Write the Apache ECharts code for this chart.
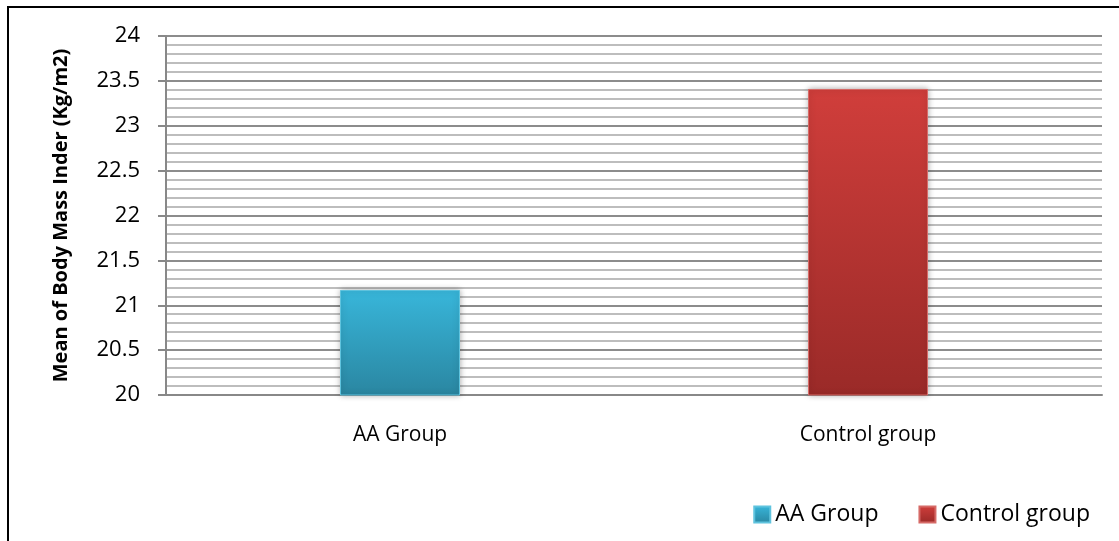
<!DOCTYPE html>
<html><head><meta charset="utf-8">
<script src="https://cdn.jsdelivr.net/npm/echarts@6/dist/echarts.min.js"></script>
<style>html,body{margin:0;padding:0;background:#fff}#c{width:1119px;height:541px}</style>
</head><body><div id="c"></div>
<script>
const categories = ['AA Group', 'Control group'];
const seriesNames = ['AA Group', 'Control group'];
const values = [21.17, 23.41];
const yTicks = ['20', '20.5', '21', '21.5', '22', '22.5', '23', '23.5', '24'];
const yTitle = 'Mean of Body Mass Inder (Kg/m2)';

const grads = [
  ['#38b6da', '#2a86a1', '#5fc3de'],
  ['#d03e3b', '#9a2a28', '#d66a67']
];
const font = 'Open Sans, Liberation Sans, sans-serif';
const chart = echarts.init(document.getElementById('c'));
chart.setOption({
  animation: false,
  graphic: [{
    type: 'rect', shape: {x: 8, y: 7, width: 1200, height: 600},
    style: {fill: 'none', stroke: '#000', lineWidth: 2}, silent: true, z: 100
  }],
  grid: {left: 166, right: 17, top: 36, bottom: 146},
  legend: {
    right: 24, top: 498, itemWidth: 16, itemHeight: 16, itemGap: 40,
    textStyle: {fontFamily: font, fontSize: 23, color: '#000'},
    data: seriesNames.map((n, i) => ({name: n, icon: 'rect'}))
  },
  xAxis: {
    type: 'category', data: categories,
    axisLine: {lineStyle: {color: '#888', width: 2}},
    axisTick: {show: false},
    axisLabel: {fontFamily: font, fontSize: 21, color: '#000', margin: 30}
  },
  yAxis: {
    type: 'value', min: 20, max: 24, interval: 0.5,
    name: yTitle, nameLocation: 'middle', nameGap: 95,
    nameTextStyle: {fontFamily: font, fontSize: 20, fontWeight: 'bold', color: '#000'},
    axisLine: {show: true, lineStyle: {color: '#888', width: 2}},
    axisTick: {show: true, length: 8, lineStyle: {color: '#888', width: 2}},
    axisLabel: {fontFamily: font, fontSize: 22, color: '#000', margin: 26,
      formatter: (v) => yTicks[Math.round((v - 20) / 0.5)]},
    splitLine: {lineStyle: {color: '#8c8c8c', width: 2}},
    minorTick: {show: false, splitNumber: 5},
    minorSplitLine: {show: true, lineStyle: {color: '#bdbdbd', width: 2}}
  },
  series: seriesNames.map((n, i) => ({
    name: n, type: 'bar', barWidth: 120, barGap: '-100%',
    data: values.map((v, j) => j === i ? v : '-'),
    itemStyle: {
      color: new echarts.graphic.LinearGradient(0, 0, 0, 1, [
        {offset: 0, color: grads[i][0]}, {offset: 1, color: grads[i][1]}]),
      borderColor: grads[i][2], borderWidth: 1,
      shadowColor: 'rgba(0,0,0,0.3)', shadowBlur: 6
    }
  }))
});
</script></body></html>
